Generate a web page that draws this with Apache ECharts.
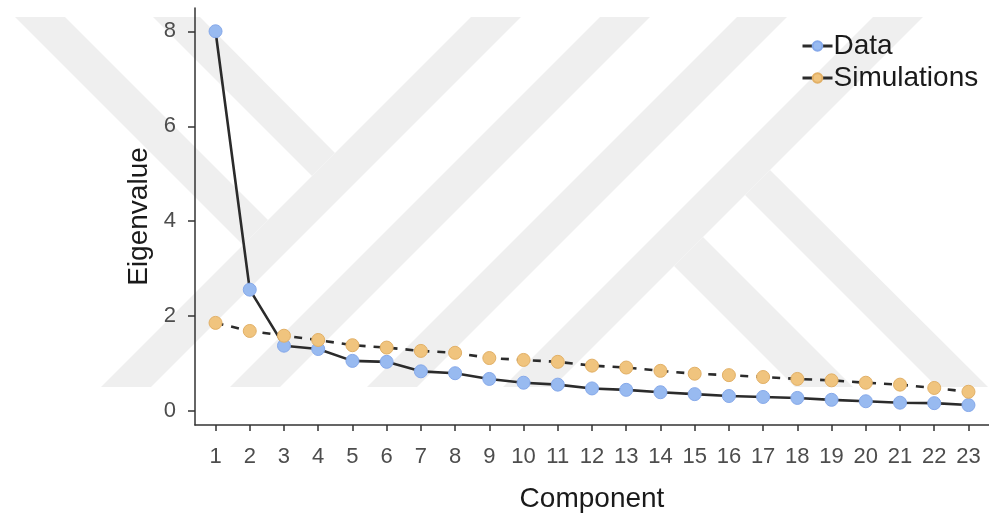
<!DOCTYPE html>
<html>
<head>
<meta charset="utf-8">
<script src="https://cdn.jsdelivr.net/npm/echarts@6/dist/echarts.min.js"></script>
<style>
  html, body { margin: 0; padding: 0; background: #fff; }
  #chart { width: 989px; height: 520px; }
</style>
</head>
<body>
<div id="chart"></div>
<script>
// scree plot: observed eigenvalues vs. simulated (parallel analysis)

const components = [1, 2, 3, 4, 5, 6, 7, 8, 9, 10, 11, 12, 13, 14, 15, 16, 17, 18, 19, 20, 21, 22, 23];
const dataEigen = [8.00, 2.56, 1.38, 1.31, 1.06, 1.04, 0.84, 0.80, 0.68, 0.60, 0.56, 0.48,
                   0.45, 0.40, 0.36, 0.32, 0.30, 0.28, 0.24, 0.21, 0.18, 0.17, 0.13];
const simEigen = [1.86, 1.69, 1.59, 1.50, 1.39, 1.34, 1.27, 1.23, 1.12, 1.08, 1.04, 0.96,
                  0.92, 0.85, 0.79, 0.76, 0.72, 0.68, 0.65, 0.60, 0.56, 0.49, 0.41];
const yTicks = [0, 2, 4, 6, 8];
const seriesNames = ["Data", "Simulations"];

const FONT = "Liberation Sans, Arial, sans-serif";
const chart = echarts.init(document.getElementById("chart"));

// faint background watermark (decoration only)
const wmBands = [
    [[101, 387], [471, 17], [521, 17], [151, 387]],
    [[230, 387], [600, 17], [650, 17], [280, 387]],
    [[367, 387], [737, 17], [787, 17], [417, 387]],
    [[503, 387], [873, 17], [923, 17], [553, 387]],
    [[15, 17], [65, 17], [268, 220], [243, 245]],
    [[153, 17], [200, 17], [335, 153], [312, 176]],
    [[770, 170], [988, 387], [937, 387], [745, 195]],
    [[703, 237], [853, 387], [795, 387], [674, 266]]
];

const pairs = (ys) => components.map((c, i) => [c, ys[i]]);

chart.setOption({
    animation: false,
    backgroundColor: "#fff",
    graphic: wmBands.map((pts) => ({
        type: "polygon",
        silent: true,
        z: -1,
        shape: { points: pts },
        style: { fill: "#efefef" }
    })),
    grid: { left: 195, top: 8, width: 798, height: 417, containLabel: false },
    legend: {
        orient: "vertical",
        left: 796,
        top: 27,
        itemWidth: 30,
        itemHeight: 12,
        itemGap: 4,
        lineStyle: { type: "solid", width: 3 },
        textStyle: { fontFamily: FONT, fontSize: 28, color: "#1a1a1a", padding: [0, 0, 0, -4] },
        data: seriesNames
    },
    xAxis: {
        type: "value",
        min: 0.4,
        max: 23.6,
        name: "Component",
        nameLocation: "middle",
        nameGap: 60,
        nameTextStyle: { fontFamily: FONT, fontSize: 28, color: "#1a1a1a" },
        axisLine: { onZero: false, lineStyle: { color: "#333", width: 1.5 } },
        axisTick: { show: true, length: 6, lineStyle: { color: "#333", width: 1.5 }, customValues: components },
        axisLabel: { customValues: components, margin: 21, fontFamily: FONT, fontSize: 22, color: "#4d4d4d" },
        splitLine: { show: false }
    },
    yAxis: {
        type: "value",
        min: -0.29,
        max: 8.49,
        name: "Eigenvalue",
        nameLocation: "middle",
        nameGap: 42,
        nameRotate: 90,
        nameTextStyle: { fontFamily: FONT, fontSize: 28, color: "#1a1a1a" },
        axisLine: { show: true, onZero: false, lineStyle: { color: "#333", width: 1.5 } },
        axisTick: { show: true, length: 7, lineStyle: { color: "#333", width: 1.5 }, customValues: yTicks },
        axisLabel: { customValues: yTicks, margin: 19, fontFamily: FONT, fontSize: 22, color: "#4d4d4d" },
        splitLine: { show: false }
    },
    series: [
        {
            name: seriesNames[0],
            type: "line",
            data: pairs(dataEigen),
            symbol: "circle",
            symbolSize: 13,
            lineStyle: { color: "#2b2b2b", width: 2.6, type: "solid" },
            itemStyle: { color: "#98baf0", borderColor: "#86a9ea", borderWidth: 1 },
            z: 3
        },
        {
            name: seriesNames[1],
            type: "line",
            data: pairs(simEigen),
            symbol: "circle",
            symbolSize: 13,
            lineStyle: { color: "#2b2b2b", width: 2.6, type: [8, 8] },
            itemStyle: { color: "#f0c47e", borderColor: "#e2b066", borderWidth: 1 },
            z: 4
        }
    ]
});
</script>
</body>
</html>
